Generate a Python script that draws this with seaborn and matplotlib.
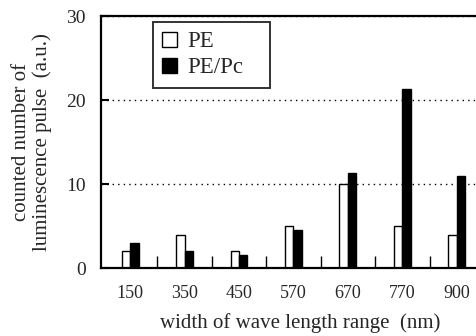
import pandas as pd
import matplotlib
matplotlib.use('Agg')
import matplotlib.pyplot as plt
import seaborn as sns
from matplotlib.patches import Patch

# dados
categorias = ['150', '350', '450', '570', '670', '770', '900']
pe = [2, 4, 2, 5, 10, 5, 4]
pe_pc = [3, 2, 1.6, 4.5, 11.3, 21.3, 11]
series = ['PE', 'PE/Pc']

df = pd.DataFrame({
    'cat': categorias * 2,
    'valor': pe + pe_pc,
    'serie': [series[0]] * len(pe) + [series[1]] * len(pe_pc),
})

sns.set_style('white')
plt.rcParams['font.family'] = ['Liberation Serif', 'DejaVu Serif']

fig = plt.figure(figsize=(4.77, 3.36), dpi=100)
ax = fig.add_axes([0.212, 0.2015, 0.788, 0.7505])

sns.barplot(data=df, x='cat', y='valor', hue='serie', order=categorias,
            hue_order=series, palette={'PE': 'white', 'PE/Pc': 'black'},
            width=0.31, edgecolor='black', linewidth=1.0, ax=ax,
            legend=False, errorbar=None)

ax.set_xlim(-0.532, 6.37)
ax.set_ylim(0, 30)
ax.set_yticks([0, 10, 20, 30])

# separadores entre categorias
ax.set_xticks([i + 0.5 for i in range(len(categorias) - 1)], minor=True)
ax.tick_params(axis='x', which='minor', direction='in', length=9, width=1,
               bottom=True, color='black')
ax.tick_params(axis='x', which='major', length=0, labelsize=13, pad=12)
ax.tick_params(axis='y', direction='in', length=6, width=1.5, left=True,
               labelsize=14, pad=11, color='black')

ax.yaxis.grid(True, linestyle=(0, (1, 3)), color='black', linewidth=1.0)
ax.set_axisbelow(True)

for side in ['left', 'bottom', 'top']:
    ax.spines[side].set_linewidth(1.6)
    ax.spines[side].set_color('black')
ax.spines['right'].set_visible(False)

ax.set_xlabel('width of wave length range  (nm)', fontsize=15, labelpad=8,
              x=0.529)
ax.set_ylabel('counted number of\nluminescence pulse  (a.u.)', fontsize=15,
              labelpad=10, linespacing=1.1)

handles = [Patch(facecolor='white', edgecolor='black', linewidth=1.0),
           Patch(facecolor='black', edgecolor='black', linewidth=1.0)]
leg = ax.legend(handles, series, loc='upper left',
                bbox_to_anchor=(0.138, 0.976 - 0.27, 0.311, 0.27), mode='expand',
                borderaxespad=0, fontsize=16.5, frameon=True, fancybox=False,
                handlelength=0.65, handleheight=0.65, handletextpad=0.45,
                labelspacing=0.22, borderpad=0.4)
leg.get_frame().set_edgecolor('black')
leg.get_frame().set_linewidth(1.4)

fig.savefig('out.png', dpi=100)
